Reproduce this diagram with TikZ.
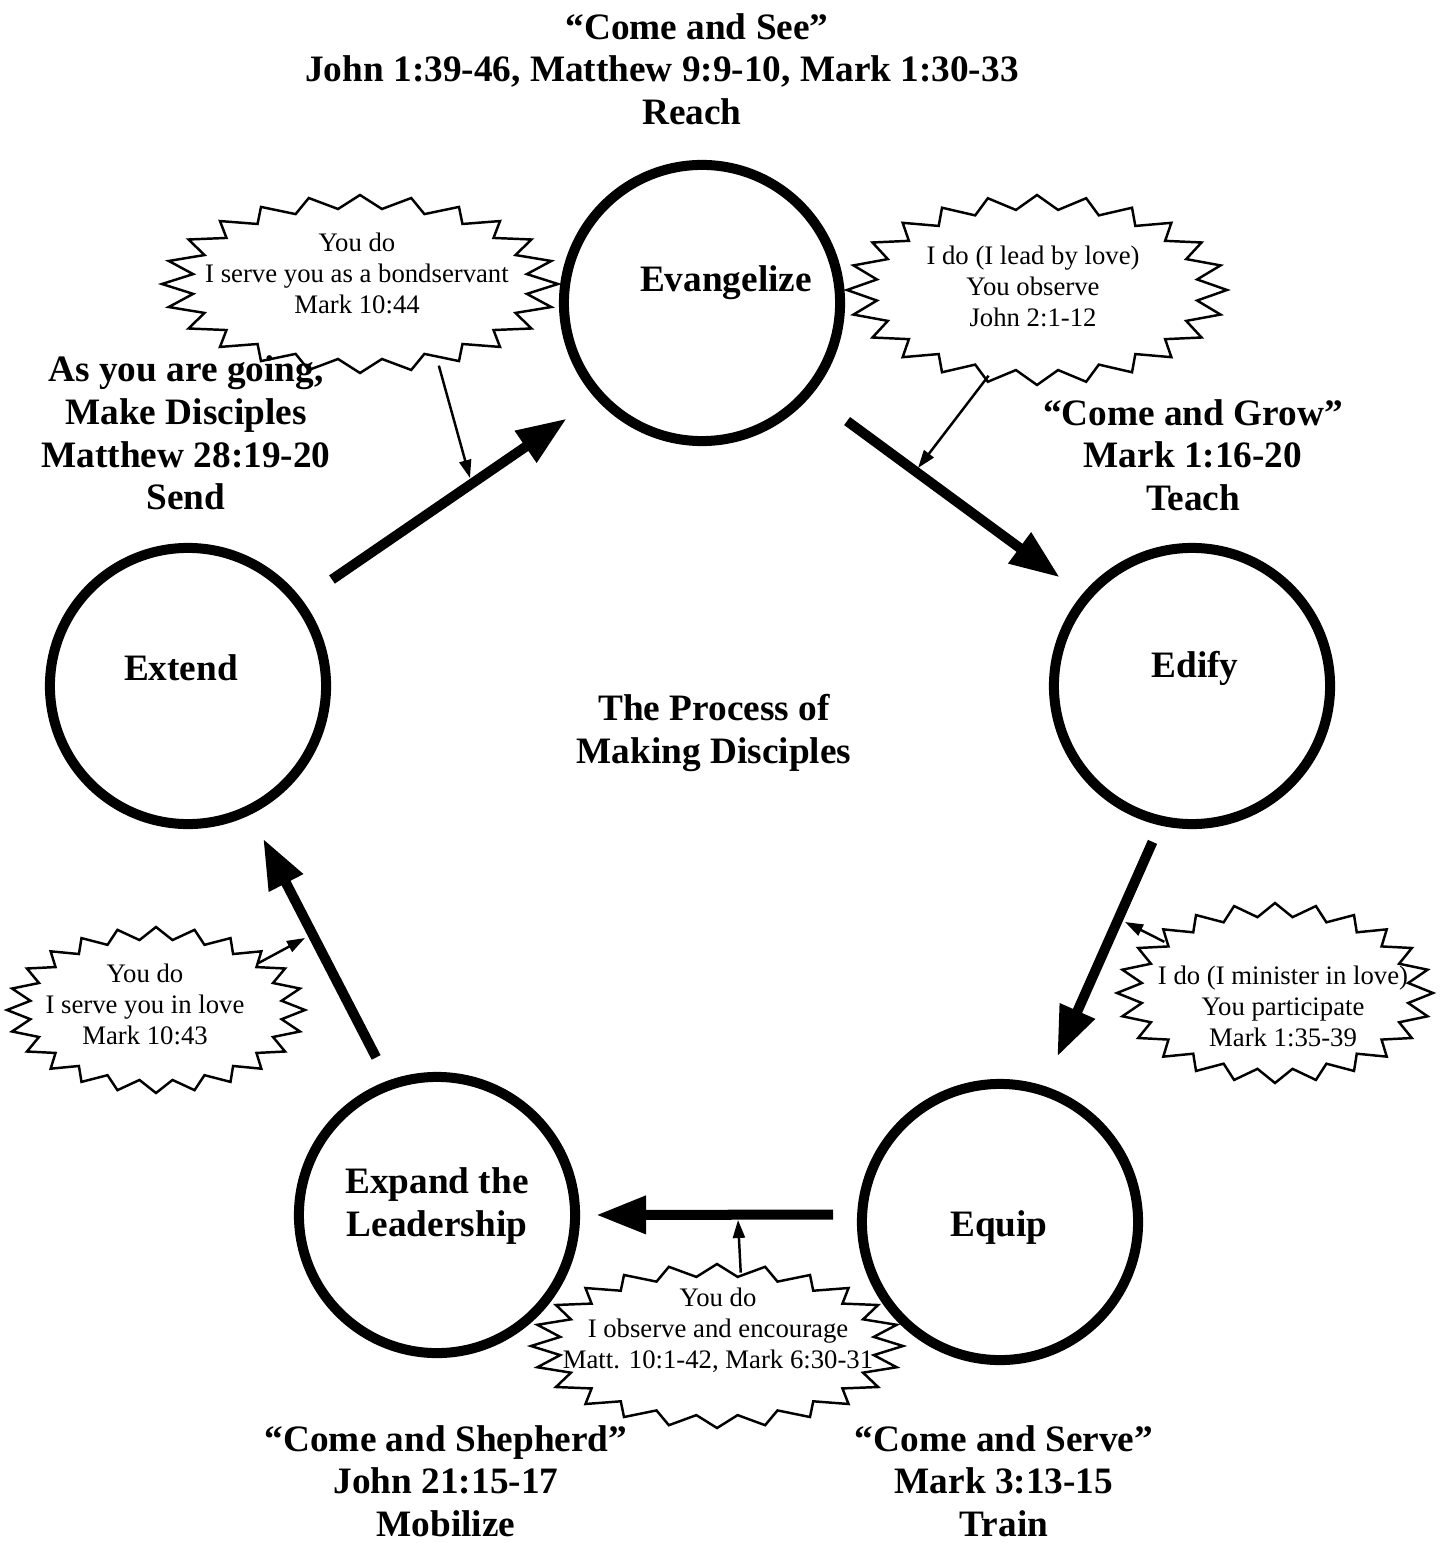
\documentclass[tikz,border=0pt]{standalone}
\usepackage{fontspec}
\setmainfont{Liberation Serif}
\usetikzlibrary{arrows.meta,shapes.geometric}
\newcommand{\headfont}{\fontsize{10.6pt}{12.1pt}\selectfont\bfseries}
\newcommand{\notefont}{\fontsize{7.6pt}{8.8pt}\selectfont}
\begin{document}
\begin{tikzpicture}[x=0.01cm, y=-0.01cm,
  stage/.style={circle, draw, line width=0.1cm, minimum size=2.76cm, inner sep=0pt},
  flow/.style={line width=0.1cm, -{Triangle[length=0.5cm,width=0.36cm]}},
  hint/.style={line width=0.7pt, -{Triangle[length=0.18cm,width=0.12cm]}},
  burst/.style={line width=0.7pt, line join=miter},
  head/.style={font=\headfont, align=center, inner sep=0pt},
  note/.style={font=\notefont, align=center, inner sep=0pt}]
\useasboundingbox (0,0) rectangle (1441,1543);

\node[stage, label={[font=\headfont, xshift=0.24cm, yshift=0.2cm]center:Evangelize}] (eva) at (702,303) {};
\node[stage, label={[font=\headfont, xshift=0.03cm, yshift=0.18cm]center:Edify}] (edi) at (1192,686) {};
\node[stage, label={[font=\headfont, xshift=-0.01cm, yshift=-0.06cm]center:Equip}] (equ) at (1000,1222) {};
\node[stage, label={[font=\headfont, align=center, yshift=0.09cm]center:Expand the\\Leadership}] (exp) at (437,1215) {};
\node[stage, label={[font=\headfont, xshift=-0.07cm, yshift=0.18cm]center:Extend}] (ext) at (188,686) {};

\draw[flow, shorten <=0.36cm, shorten >=0.35cm] (ext.37.5) -- (eva.222);
\draw[flow, shorten <=0.44cm, shorten >=0.28cm] (eva.320) -- (edi.140.5);
\draw[flow, shorten <=0.18cm, shorten >=0.32cm] (edi.257.8) -- (equ.72.7);
\draw[flow, shorten <=0.24cm, shorten >=0.16cm] (equ.177.6) -- (exp.0);
\draw[flow, shorten <=0.26cm, shorten >=0.27cm] (exp.110.5) -- (ext.296.3);

\foreach \nm/\cx/\cy/\ra/\rb in {bondservant/360/284/198/89, leadlove/1037/290/190/95,
    minister/1275/993/158/90, encourage/717/1346/186/82, servelove/156/1010/149/83}{
  \draw[burst] (\cx+\ra,\cy) \foreach \t in {0,15,...,345}{
      -- ({\cx+\ra*cos(\t)},{\cy+\rb*sin(\t)})
      -- ({\cx+0.85*\ra*cos(\t+7.5)},{\cy+0.85*\rb*sin(\t+7.5)})} -- cycle;
  \node[ellipse, minimum width=2*\ra*0.01cm, minimum height=2*\rb*0.01cm, inner sep=0pt, outer sep=0pt] (\nm) at (\cx,\cy) {};
}

\node[note] (bondtext) at (357,273) {You do\\I serve you as a bondservant\\Mark 10:44};
\node[note] (leadtext) at (1033,286) {I do (I lead by love)\\You observe\\John 2:1-12};
\node[note] (ministertext) at (1283,1006) {I do (I minister in love)\\You participate\\Mark 1:35-39};
\node[note] (encouragetext) at (718,1330) {You do\\I observe and encourage\\Matt. 10:1-42, Mark 6:30-31};
\node[note] (lovetext) at (145,1004) {You do\\I serve you in love\\Mark 10:43};

\coordinate (t1) at (470,478);
\coordinate (t2) at (918,468);
\coordinate (t3) at (1125,922);
\coordinate (t4) at (738,1220);
\coordinate (t5) at (305,938);
\draw[hint] (bondservant.-46) -- (t1);
\draw[hint, shorten <=-0.07cm] (leadlove.-120) -- (t2);
\draw[hint, shorten <=-0.13cm] (minister.155.9) -- (t3);
\draw[hint, shorten <=-0.08cm] (encourage.74) -- (t4);
\draw[hint, shorten <=-0.13cm] (servelove.25.2) -- (t5);

\node[head] (reach) at (662,69) {\hspace*{0.7cm}“Come and See”\\John 1:39-46, Matthew 9:9-10, Mark 1:30-33\\\hspace*{0.6cm}Reach};
\node[head] (send) at (186,433) {As you are going,\\Make Disciples\\Matthew 28:19-20\\Send};
\node[head] (teach) at (1193,455) {“Come and Grow”\\Mark 1:16-20\\Teach};
\node[head] (title) at (714,733) {The Process of\\Making Disciples};
\node[head] (mobilize) at (446,1481) {“Come and Shepherd”\\John 21:15-17\\Mobilize};
\node[head] (train) at (1004,1481) {“Come and Serve”\\Mark 3:13-15\\Train};
\end{tikzpicture}
\end{document}
